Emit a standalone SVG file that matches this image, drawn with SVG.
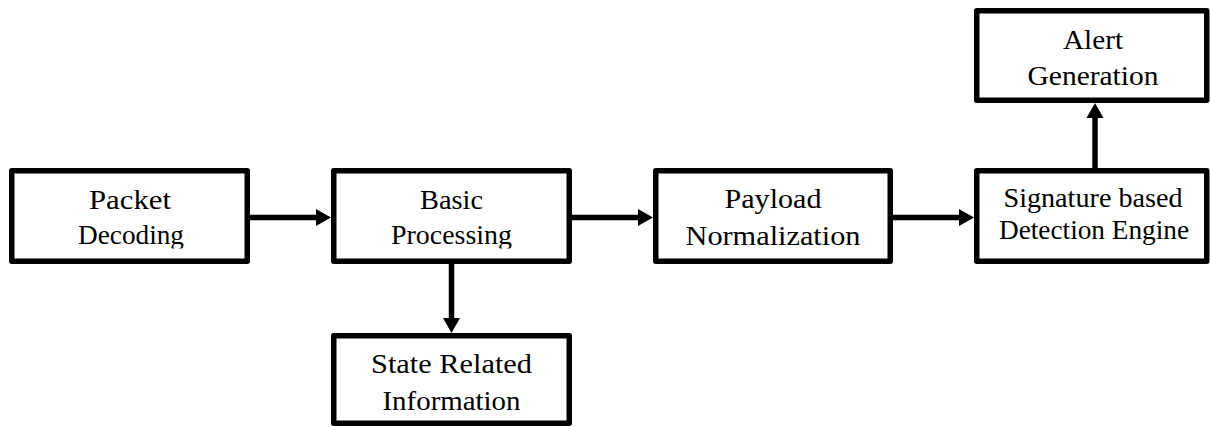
<svg xmlns="http://www.w3.org/2000/svg" width="1210" height="427" viewBox="0 0 1210 427">
  <style>
    .box { fill: #ffffff; stroke: #000000; stroke-width: 5.5; stroke-linejoin: round; }
    .lbl { font-family: "Liberation Serif", "Times New Roman", serif; font-size: 27.5px; fill: #000000; text-anchor: middle; }
    .sm { font-size: 26.5px; }
    .wire { stroke: #000000; stroke-width: 5.5; fill: none; }
    .head { fill: #000000; stroke: none; }
  </style>
  <defs>
    <!-- lower lines of the first two boxes are trimmed at the box interior -->
    <clipPath id="rowClip">
      <rect x="0" y="0" width="1210" height="248.5"/>
    </clipPath>
  </defs>
  <rect width="1210" height="427" fill="#ffffff"/>

  <g id="connectors">
    <line class="wire" x1="250" y1="217.5" x2="318" y2="217.5"/>
    <polygon class="head" points="316,209 331,217.5 316,226"/>
    <line class="wire" x1="572" y1="217.5" x2="640" y2="217.5"/>
    <polygon class="head" points="638,209 653,217.5 638,226"/>
    <line class="wire" x1="893" y1="217.5" x2="961" y2="217.5"/>
    <polygon class="head" points="959,209 974,217.5 959,226"/>
    <line class="wire" x1="451.5" y1="264" x2="451.5" y2="320"/>
    <polygon class="head" points="443,318 451.5,333 460,318"/>
    <line class="wire" x1="1095" y1="168" x2="1095" y2="116"/>
    <polygon class="head" points="1086.5,118 1095,103 1103.5,118"/>
  </g>

  <g id="packet-decoding">
    <rect class="box" x="11.75" y="170.75" width="235.5" height="90.5"/>
    <g clip-path="url(#rowClip)">
      <text class="lbl" x="130" y="209" textLength="82" lengthAdjust="spacingAndGlyphs">Packet</text>
      <text class="lbl" x="131" y="244" textLength="106" lengthAdjust="spacingAndGlyphs">Decoding</text>
    </g>
  </g>

  <g id="basic-processing">
    <rect class="box" x="333.75" y="170.75" width="235.5" height="90.5"/>
    <g clip-path="url(#rowClip)">
      <text class="lbl" x="451.5" y="209" textLength="63" lengthAdjust="spacingAndGlyphs">Basic</text>
      <text class="lbl" x="451.5" y="244" textLength="121" lengthAdjust="spacingAndGlyphs">Processing</text>
    </g>
  </g>

  <g id="payload-normalization">
    <rect class="box" x="655.75" y="170.75" width="234.5" height="90.5"/>
    <text class="lbl" x="773" y="208" textLength="97" lengthAdjust="spacingAndGlyphs">Payload</text>
    <text class="lbl" x="773" y="245" textLength="175" lengthAdjust="spacingAndGlyphs">Normalization</text>
  </g>

  <g id="signature-detection">
    <rect class="box" x="976.75" y="170.75" width="230" height="90.5"/>
    <text class="lbl sm" x="1093" y="207" textLength="179" lengthAdjust="spacingAndGlyphs">Signature based</text>
    <text class="lbl sm" x="1094" y="239" textLength="190" lengthAdjust="spacingAndGlyphs">Detection Engine</text>
  </g>

  <g id="alert-generation">
    <rect class="box" x="976.75" y="10.75" width="230" height="89.5"/>
    <text class="lbl" x="1093" y="49" textLength="60" lengthAdjust="spacingAndGlyphs">Alert</text>
    <text class="lbl" x="1093" y="85" textLength="131" lengthAdjust="spacingAndGlyphs">Generation</text>
  </g>

  <g id="state-information">
    <rect class="box" x="333.75" y="335.75" width="235.5" height="87.5"/>
    <text class="lbl" x="451.5" y="373" textLength="161" lengthAdjust="spacingAndGlyphs">State Related</text>
    <text class="lbl" x="451.5" y="410" textLength="138" lengthAdjust="spacingAndGlyphs">Information</text>
  </g>
</svg>
